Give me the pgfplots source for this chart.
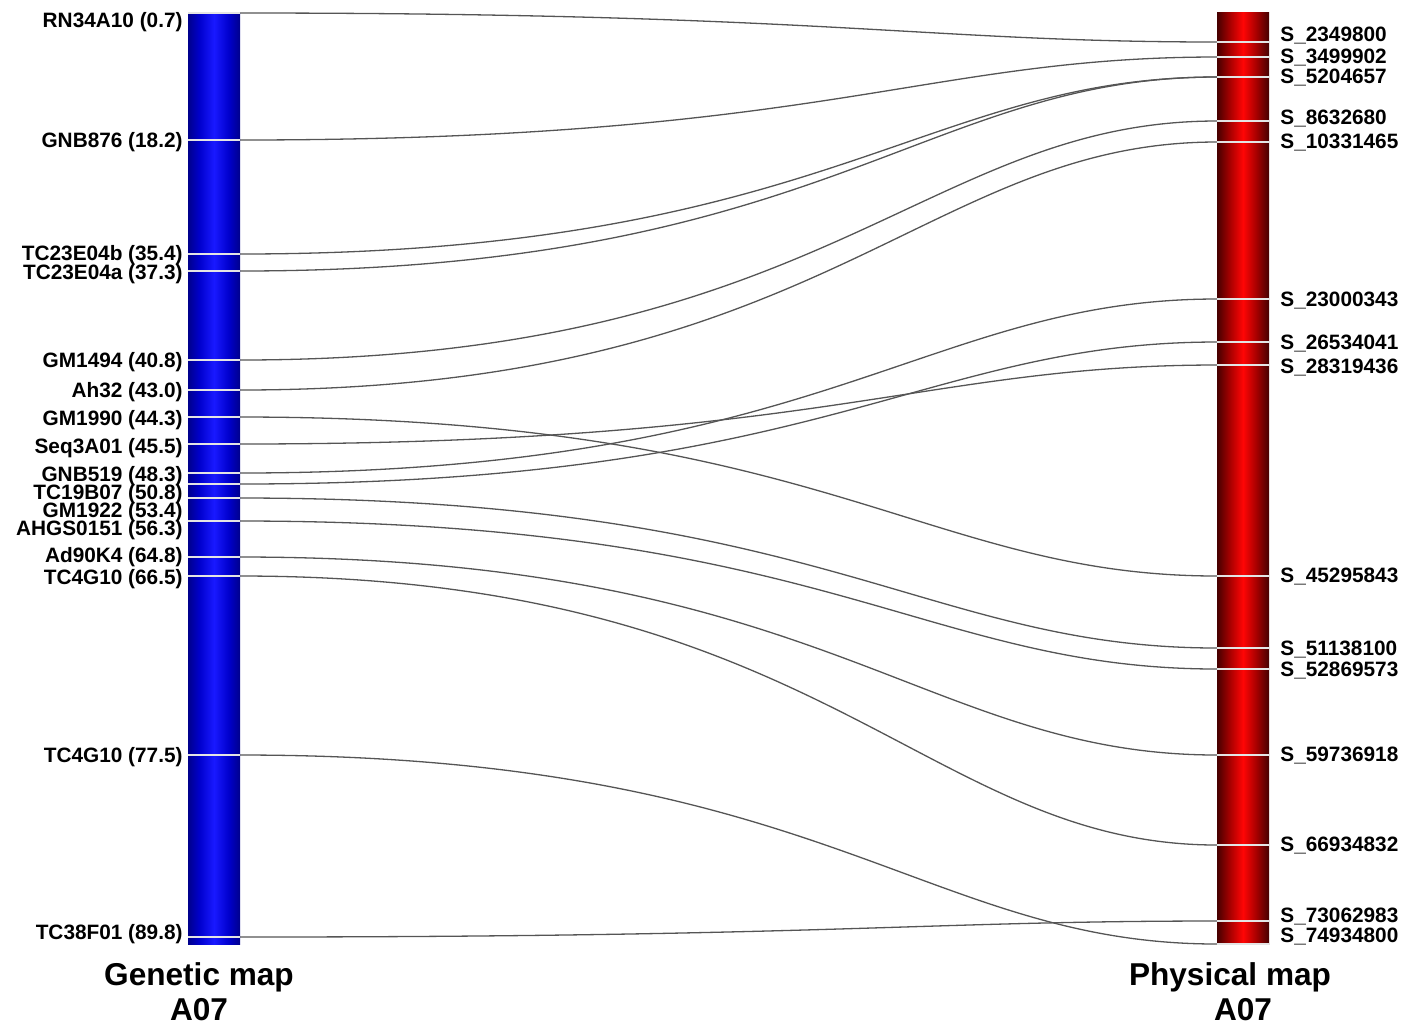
\documentclass[border=0pt]{standalone}
\usepackage{pgfplots}
\pgfplotsset{compat=1.18}
\usepackage{pgfplotstable}
\usepackage{fontspec}
\setmainfont{Liberation Sans}

\definecolor{linkc}{RGB}{85,85,85}
\definecolor{bluedark}{RGB}{0,0,140}
\definecolor{bluebody}{RGB}{0,0,205}
\definecolor{bluemid}{RGB}{25,25,255}
\definecolor{reddark}{RGB}{70,0,0}
\definecolor{redbody}{RGB}{165,0,0}
\definecolor{redmid}{RGB}{255,5,5}
\definecolor{tickc}{RGB}{228,228,228}

\pgfdeclarehorizontalshading{blueshade}{100bp}{color(0bp)=(bluedark); color(25bp)=(bluedark); color(36bp)=(bluebody); color(50bp)=(bluemid); color(64bp)=(bluebody); color(75bp)=(bluedark); color(100bp)=(bluedark)}
\pgfdeclarehorizontalshading{redshade}{100bp}{color(0bp)=(reddark); color(25bp)=(reddark); color(37bp)=(redbody); color(50bp)=(redmid); color(63bp)=(redbody); color(75bp)=(reddark); color(100bp)=(reddark)}

\tikzset{
  glab/.style={anchor=east, inner sep=0pt, text height=0.716em, text depth=0pt,
    font=\bfseries\fontsize{10.4}{12}\selectfont},
  plab/.style={anchor=west, inner sep=0pt, text height=0.716em, text depth=0pt,
    font=\bfseries\fontsize{10.4}{12}\selectfont},
  tlab/.style={anchor=base, inner sep=0pt,
    font=\bfseries\fontsize{15.8}{18}\selectfont},
}

% genetic map: marker, cM, drawn position, label centre
\pgfplotstableread{
name cM gy ly
RN34A10 0.7 13 20
GNB876 18.2 140 140
TC23E04b 35.4 254 253
TC23E04a 37.3 271 272
GM1494 40.8 360 360
Ah32 43.0 390 390
GM1990 44.3 417 418
Seq3A01 45.5 444 446
GNB519 48.3 473 474
TC19B07 50.8 484 492
GM1922 53.4 498 510
AHGS0151 56.3 521 528
Ad90K4 64.8 557 555.5
TC4G10 66.5 576 577
TC4G10 77.5 755 755.5
TC38F01 89.8 937 932
}\genetic

% physical map: position (bp), drawn position, label centre
\pgfplotstableread{
pos py ly
2349800 42 34
3499902 57 56
5204657 77 76
8632680 121 117
10331465 142 141
23000343 299 299.5
26534041 342 342
28319436 365 366
45295843 576 575
51138100 648 648
52869573 669 669
59736918 755 754
66934832 845 844
73062983 921 915
74934800 944 935.5
}\physical

% links: genetic position -> physical position
\pgfplotstableread{
gy py
13 42
140 57
254 77
271 77
360 121
390 142
417 576
444 365
473 299
484 342
498 648
521 669
557 755
576 845
755 944
937 921
}\links

\begin{document}
\begin{tikzpicture}
\begin{axis}[
  width=709pt, height=512.5pt, scale only axis,
  xmin=0, xmax=1418, ymin=0, ymax=1025,
  y dir=reverse, hide axis, clip=false,
]
\addplot[draw=none] coordinates {(0,0) (1418,1025)};

% links
\pgfplotsforeachungrouped \i in {0,...,15}{%
  \pgfplotstablegetelem{\i}{gy}\of\links \let\ga\pgfplotsretval
  \pgfplotstablegetelem{\i}{py}\of\links \let\pa\pgfplotsretval
  \edef\temp{\noexpand\draw[linkc, line width=0.65pt]
    (axis cs:240,\ga) .. controls (axis cs:826,\ga) and (axis cs:924,\pa) .. (axis cs:1217,\pa);}%
  \temp
}

% chromosome bars
\addplot[draw=none, fill=none, shade, shading=blueshade]
  coordinates {(188,13) (240,13) (240,944) (188,944)} -- cycle;
\addplot[draw=none, fill=none, shade, shading=redshade]
  coordinates {(1217,12) (1269,12) (1269,944) (1217,944)} -- cycle;

% genetic markers
\pgfplotsforeachungrouped \i in {0,...,15}{%
  \pgfplotstablegetelem{\i}{gy}\of\genetic \let\gy\pgfplotsretval
  \pgfplotstablegetelem{\i}{ly}\of\genetic \let\ly\pgfplotsretval
  \pgfplotstablegetelem{\i}{name}\of\genetic \let\nm\pgfplotsretval
  \pgfplotstablegetelem{\i}{cM}\of\genetic \let\cm\pgfplotsretval
  \edef\temp{\noexpand\draw[tickc, line width=0.8pt] (axis cs:188,\gy) -- (axis cs:240,\gy);
    \noexpand\node[glab] at (axis cs:183,\ly) {\nm\space(\cm)};}%
  \temp
}

% physical markers
\pgfplotsforeachungrouped \i in {0,...,14}{%
  \pgfplotstablegetelem{\i}{py}\of\physical \let\py\pgfplotsretval
  \pgfplotstablegetelem{\i}{ly}\of\physical \let\ly\pgfplotsretval
  \pgfplotstablegetelem{\i}{pos}\of\physical \let\ps\pgfplotsretval
  \edef\temp{\noexpand\draw[tickc, line width=0.8pt] (axis cs:1217,\py) -- (axis cs:1269,\py);
    \noexpand\node[plab] at (axis cs:1280,\ly) {S\noexpand\_\ps};}%
  \temp
}

% titles
\node[tlab] at (axis cs:199,985) {Genetic map};
\node[tlab] at (axis cs:199,1020) {A07};
\node[tlab] at (axis cs:1230,985) {Physical map};
\node[tlab] at (axis cs:1243,1020) {A07};
\end{axis}
\end{tikzpicture}
\end{document}
